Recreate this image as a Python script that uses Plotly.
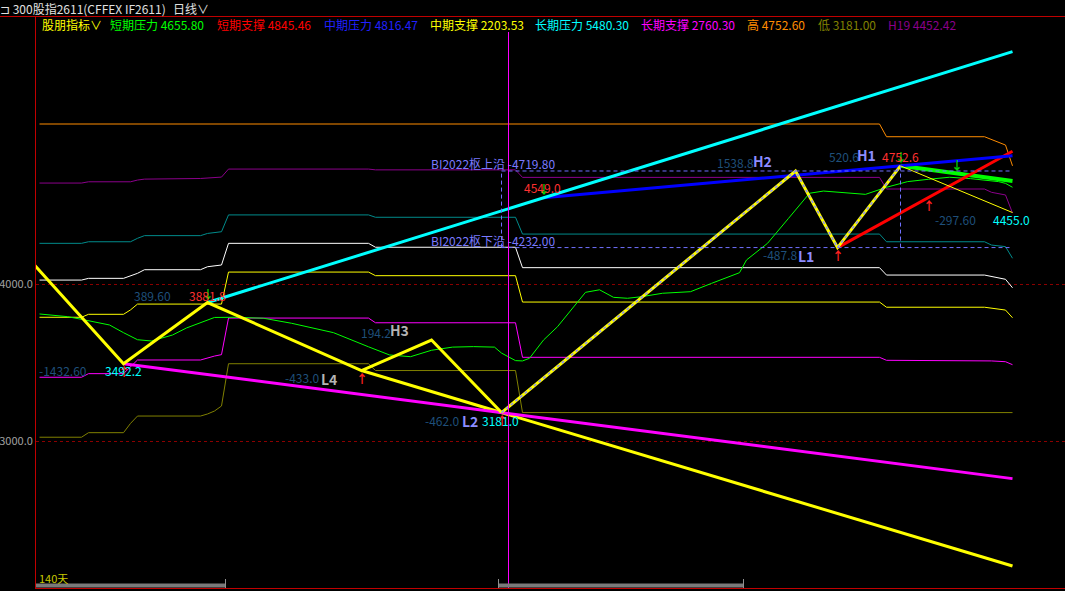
import plotly.graph_objects as go

# ---------------- data ----------------
last_bar = 139

# zigzag pivots (bar index, price)
zz_idx = [-17, 12, 24, 46, 56, 66, 108, 114, 123]
zz_val = [4924.8, 3492.2, 3881.8, 3448.8, 3643.0, 3181.0, 4719.8, 4232.0, 4752.6]
zz_open_val = 4455.0  # unfinished leg to the last bar

# amplitude texts shown near pivots
amp_text = ["-1432.60", "389.60", "-433.0", "194.2", "-462.0", "1538.8", "-487.8", "520.6"]
open_amp_text = "-297.60"

# trend lines (start pivot -> value at the last bar)
trend_names = ["短期压力", "短期支撑", "中期压力", "中期支撑", "长期压力", "长期支撑"]
trend_start_idx = [123, 114, 72, 46, 24, 12]
trend_start_val = [4752.6, 4232.0, 4549.0, 3448.8, 3881.8, 3492.2]
trend_end_val = [4655.80, 4845.46, 4816.47, 2203.53, 5480.30, 2760.30]

high_val = 4752.60
low_val = 3181.00
h19_val = 4452.42

zone_top = 4719.80
zone_bot = 4232.00
zone_start = 66
zone_end = 123

# band lines (bar index breakpoints, price)
orange_idx = [0, 120, 121, 135, 138, 139]
orange_val = [5019, 5019, 4938, 4938, 4885, 4752.6]

purple_idx = [0, 6, 7, 13, 14, 15, 23, 26, 27, 47, 48, 68, 69, 120, 121, 135, 136, 138, 139]
purple_val = [4643, 4643, 4651, 4651, 4662, 4668, 4672, 4681, 4732, 4732, 4727, 4727, 4679, 4679, 4605, 4605, 4584, 4567, 4452.42]

teal_idx = [0, 6, 7, 13, 14, 15, 23, 24, 26, 27, 47, 48, 68, 69, 120, 121, 135, 136, 138, 139]
teal_val = [4259, 4259, 4269, 4269, 4291, 4308, 4308, 4322, 4333, 4440, 4440, 4425, 4425, 4318, 4318, 4269, 4269, 4248, 4238, 4164]

white_idx = [0, 6, 7, 12, 14, 15, 23, 24, 26, 27, 47, 48, 68, 69, 120, 121, 135, 137, 138, 139]
white_val = [4025, 4025, 4036, 4036, 4068, 4091, 4091, 4110, 4121, 4259, 4259, 4234, 4234, 4104, 4104, 4057, 4057, 4036, 4030, 3976]

yellow_idx = [0, 6, 7, 12, 13, 14, 26, 27, 47, 48, 68, 69, 120, 121, 135, 138, 139]
yellow_val = [3788, 3788, 3807, 3807, 3835, 3872, 3872, 4076, 4076, 4053, 4053, 3885, 3885, 3852, 3852, 3834, 3785]

magenta_idx = [0, 6, 7, 12, 14, 23, 25, 26, 27, 47, 48, 68, 69, 120, 121, 135, 136, 138, 139]
magenta_val = [3406, 3406, 3429, 3429, 3516, 3516, 3541, 3550, 3783, 3783, 3753, 3753, 3533, 3533, 3514, 3514, 3510, 3505, 3486]

olive_idx = [0, 6, 7, 12, 13, 14, 23, 24, 25, 26, 27, 47, 48, 68, 69, 139]
olive_val = [3024, 3024, 3053, 3053, 3112, 3159, 3159, 3172, 3191, 3223, 3492.2, 3492.2, 3448.8, 3448.8, 3181.0, 3181.0]

green_idx = [0, 4, 6, 10, 12, 14, 16, 19, 21, 23, 25, 28, 32, 36, 39, 42, 47, 50, 53, 56, 59, 62, 65, 66, 68, 69, 70,
             72, 74, 75, 77, 78, 80, 81, 82, 84, 86, 89, 93, 96, 99, 100, 101, 104, 107, 110, 112, 115, 118, 121,
             124, 127, 130, 133, 137, 138, 139]
green_val = [3809, 3792, 3775, 3739, 3690, 3645, 3637, 3675, 3720, 3755, 3787, 3788, 3782, 3750, 3718, 3690, 3600,
             3548, 3537, 3578, 3598, 3601, 3598, 3560, 3512, 3510, 3527, 3643, 3728, 3782, 3887, 3947, 3963, 3941,
             3915, 3909, 3919, 3941, 3951, 4004, 4057, 4072, 4153, 4259, 4418, 4578, 4592, 4582, 4571, 4616, 4652,
             4667, 4680, 4671, 4652, 4641, 4616]

signal_up_idx = [12, 46, 66, 114, 127]
signal_dn_idx = [24, 72, 123, 131]

ytick_vals = [3000, 4000]

# ---------------- figure ----------------
W, H = 1065, 591
L, T, B = 36, 17, 3
FONT = "Noto Sans CJK SC"
AMP_C = "#1f4f7a"
TAG_C = "#8c8cff"
TAG_G = "#b4b4b4"


def px(x):
    return (x - L) / (W - L)


def py(y):
    return (H - B - y) / (H - B - T)


fig = go.Figure()


def line(xs, ys, color, width=1, dash=None):
    fig.add_trace(go.Scatter(x=xs, y=ys, mode="lines",
                             line=dict(color=color, width=width, dash=dash),
                             hoverinfo="skip", showlegend=False))


def trend_val(k, i):
    s, v0, v1 = trend_start_idx[k], trend_start_val[k], trend_end_val[k]
    return v0 + (v1 - v0) * (i - s) / (last_bar - s)


# band lines
line(orange_idx, orange_val, "#ff8c00")
line(purple_idx, purple_val, "#8b008b")
line(teal_idx, teal_val, "#008b8b")
line(white_idx, white_val, "#ffffff")
line(yellow_idx, yellow_val, "#ffff00")
line(magenta_idx, magenta_val, "#ff00ff")
line(olive_idx, olive_val, "#808000")
line(green_idx, green_val, "#00ff00")

# trend lines
trend_colors = ["#00ff00", "#ff0000", "#0000ff", "#ffff00", "#00ffff", "#ff00ff"]
trend_widths = [4, 3, 3, 3, 3, 3]
for k in range(len(trend_names)):
    line([trend_start_idx[k], last_bar], [trend_start_val[k], trend_end_val[k]],
         trend_colors[k], trend_widths[k])

# zigzag
line(zz_idx[:6], zz_val[:6], "#ffff00", 3)
line(zz_idx[5:], zz_val[5:], "#ffff00", 3)
line(zz_idx[5:], zz_val[5:], "#8c8cff", 1.5, "dot")
line([zz_idx[-1], last_bar], [zz_val[-1], zz_open_val], "#ffff00", 1)

# zone box
zone_style = dict(color="#7070ff", width=1, dash="4px,3px")
for yv in (zone_top, zone_bot):
    fig.add_shape(type="line", x0=zone_start, x1=last_bar, y0=yv, y1=yv, line=zone_style)
fig.add_shape(type="line", x0=zone_start, x1=zone_start, y0=zone_bot, y1=zone_top, line=zone_style)
fig.add_shape(type="line", x0=zone_end, x1=zone_end, y0=zone_bot, y1=high_val, line=zone_style)

# vertical magenta cursor
fig.add_shape(type="line", x0=67, x1=67, y0=0, y1=py(32), xref="x", yref="paper",
              line=dict(color="#ff00ff", width=1))

annots = []


def lab(text, i, v, dx, dy, color, size=12, bold=False):
    annots.append(dict(x=i, y=v, xref="x", yref="y", text=("<b>%s</b>" % text) if bold else text,
                       showarrow=False, xshift=dx, yshift=dy, xanchor="center", yanchor="middle",
                       font=dict(family=FONT, size=size, color=color)))


# signals
for i in signal_up_idx:
    v = trend_val(1, i) if i > 114 else zz_val[zz_idx.index(i)]
    lab("↑", i, v, 0, -8, "#ff2020", 12, True)
for i in signal_dn_idx:
    if i in zz_idx:
        v = zz_val[zz_idx.index(i)]
    elif i == 72:
        v = trend_start_val[2]
    else:
        v = trend_val(0, i)
    lab("↓", i, v, 0, 9, "#00cc00", 12, True)

# pivot labels
lab(amp_text[0], zz_idx[1], zz_val[1], -61, -7, AMP_C)
lab("%.1f" % zz_val[1], zz_idx[1], zz_val[1], 0, -7, "#00ffff")
lab(amp_text[1], zz_idx[2], zz_val[2], -55, 7, AMP_C)
lab("%.1f" % zz_val[2], zz_idx[2], zz_val[2], 0, 7, "#ff3030")
lab(amp_text[2], zz_idx[3], zz_val[3], -60, -7, AMP_C)
lab("L4", zz_idx[3], zz_val[3], -33, -8, TAG_G, 14, True)
lab(amp_text[3], zz_idx[4], zz_val[4], -56, 8, AMP_C)
lab("H3", zz_idx[4], zz_val[4], -32, 10, TAG_G, 14, True)
lab(amp_text[4], zz_idx[5], zz_val[5], -60, -8, AMP_C)
lab("L2", zz_idx[5], zz_val[5], -32, -8, TAG_C, 14, True)
lab("%.1f" % zz_val[5], zz_idx[5], zz_val[5], -1, -8, "#00ffff")
lab(amp_text[5], zz_idx[6], zz_val[6], -60, 8, AMP_C)
lab("H2", zz_idx[6], zz_val[6], -33, 10, TAG_C, 14, True)
lab(amp_text[6], zz_idx[7], zz_val[7], -58, -7, AMP_C)
lab("L1", zz_idx[7], zz_val[7], -32, -8, TAG_C, 14, True)
lab(amp_text[7], zz_idx[8], zz_val[8], -57, 9, AMP_C)
lab("H1", zz_idx[8], zz_val[8], -34, 11, TAG_C, 14, True)
lab("%.1f" % zz_val[8], zz_idx[8], zz_val[8], 0, 9, "#ff3030")
lab(open_amp_text, last_bar, zz_open_val, -57, -7, AMP_C)
lab("%.1f" % zz_open_val, last_bar, zz_open_val, -1, -7, "#00ffff")
lab("%.1f" % trend_start_val[2], trend_start_idx[2], trend_start_val[2], -1, 10, "#ff3030")

# zone texts
for name, yv, dy in (("BI2022枢上沿", zone_top, 7), ("BI2022枢下沿", zone_bot, 7)):
    annots.append(dict(x=zone_start, y=yv, xref="x", yref="y", text="%s -%.2f" % (name, yv),
                       showarrow=False, xshift=56, yshift=dy, xanchor="right", yanchor="middle",
                       font=dict(family=FONT, size=12, color="#7a7aff")))

# header
annots.append(dict(x=px(-2), y=py(8), xref="paper", yref="paper", xanchor="left", yanchor="middle",
                   text="⊐ 300股指2611(CFFEX IF2611)", showarrow=False,
                   font=dict(family=FONT, size=12, color="#e0e0e0")))
annots.append(dict(x=px(171), y=py(8), xref="paper", yref="paper", xanchor="left", yanchor="middle",
                   text="日线∨", showarrow=False, font=dict(family=FONT, size=12, color="#e0e0e0")))

# legend row
legend_items = [("股朋指标∨", "#ffff00", 40)]
leg_pos = [108, 215, 322, 428, 533, 639]
for k in range(6):
    legend_items.append(("%s %.2f" % (trend_names[k], trend_end_val[k]),
                         trend_colors[k] if k != 2 else "#2020ff", leg_pos[k]))
legend_items.append(("高 %.2f" % high_val, "#ff8c00", 745))
legend_items.append(("低 %.2f" % low_val, "#808000", 816))
legend_items.append(("H19 %.2f" % h19_val, "#8b008b", 886))
for text, color, x in legend_items:
    annots.append(dict(x=px(x), y=py(25), xref="paper", yref="paper", xanchor="left", yanchor="middle",
                       text=text, showarrow=False, font=dict(family=FONT, size=12, color=color)))

annots.append(dict(x=px(37), y=py(578), xref="paper", yref="paper", xanchor="left", yanchor="middle",
                   text="140天", showarrow=False, font=dict(family=FONT, size=11, color="#c8c800")))

# frame & scroll bar shapes
shapes = [
    dict(type="line", xref="paper", yref="paper", x0=px(0), x1=1, y0=py(16.5), y1=py(16.5),
         line=dict(color="#c00000", width=1)),
    dict(type="rect", xref="paper", yref="paper", x0=px(36), x1=px(225), y0=py(587.5), y1=py(583.5),
         fillcolor="#7a7a7a", line=dict(width=0)),
    dict(type="rect", xref="paper", yref="paper", x0=px(499), x1=px(743), y0=py(587.5), y1=py(583.5),
         fillcolor="#7a7a7a", line=dict(width=0)),
]
for xv in (225.5, 498.5, 743.5):
    shapes.append(dict(type="line", xref="paper", yref="paper", x0=px(xv), x1=px(xv), y0=py(588), y1=py(579),
                       line=dict(color="#909090", width=1)))
for s in shapes:
    fig.add_shape(**s)

fig.update_layout(
    width=W, height=H,
    margin=dict(l=L, r=0, t=T, b=B, autoexpand=False),
    paper_bgcolor="#000000", plot_bgcolor="#000000",
    showlegend=False, hovermode=False,
    annotations=annots,
    xaxis=dict(range=[-0.5, 146.5], showgrid=False, zeroline=False, showticklabels=False,
               showline=True, linecolor="#c00000", linewidth=1, ticks="", automargin=False),
    yaxis=dict(range=[2063.7, 5700.6], tickvals=ytick_vals, tickformat=".1f", automargin=False,
               showgrid=True, gridcolor="#8b0000", griddash="3px,3px", gridwidth=1,
               zeroline=False, showline=True, linecolor="#c00000", linewidth=1, ticks="",
               ticklabelstandoff=0,
               tickfont=dict(family=FONT, size=11, color="#a0a0a0")),
)

fig.write_html("out.html", config={"displayModeBar": False},
               post_script="document.body.style.margin='0';document.body.style.background='#000';")
